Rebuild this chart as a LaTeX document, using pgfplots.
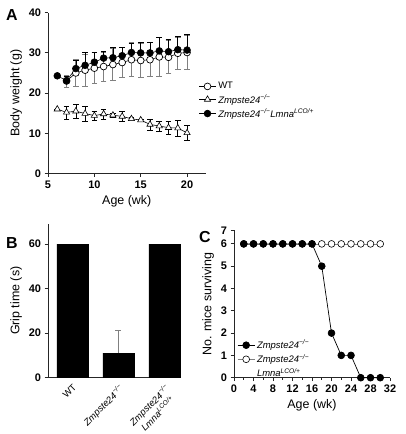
\documentclass[border=0pt]{standalone}
\usepackage{fontspec}
\setmainfont{Liberation Sans}
\usepackage{pgfplots}
\pgfplotsset{compat=1.18}
\usepackage{pgfplotstable}

\pgfplotstableread{
x y e
7 23.0 1.5
8 25.0 3.4
9 25.7 4.0
10 26.2 3.8
11 26.6 3.6
12 27.1 3.9
13 27.6 3.8
14 28.3 4.2
15 28.1 4.3
16 28.3 4.2
17 29.0 4.9
18 28.9 4.1
19 29.9 4.0
20 30.1 4.3
}\wtA

\pgfplotstableread{
x y e
6 24.3 0
7 23.1 1.0
8 26.1 2.1
9 26.9 3.2
10 27.7 2.4
11 28.7 1.6
12 28.8 2.5
13 29.3 2.2
14 30.1 2.4
15 30.0 2.7
16 30.0 2.6
17 30.5 3.4
18 30.3 3.0
19 30.8 3.4
20 30.7 4.0
}\lmnaA

\pgfplotstableread{
x y e
6 16.0 0
7 15.2 1.6
8 15.5 1.8
9 14.9 1.9
10 14.4 1.1
11 14.8 1.2
12 14.5 0.5
13 14.2 1.2
14 13.6 0.3
15 13.3 0.3
16 12.2 1.4
17 11.8 1.2
18 11.4 1.6
19 11.3 2.0
20 10.1 1.9
}\zmpA

\pgfplotstableread{
x y
0 60
1 11
2 60
}\gripB

\pgfplotstableread{
x y e
1 11 10
}\gripErrB

\pgfplotstableread{
x y
2 6
4 6
6 6
8 6
10 6
12 6
14 6
16 6
18 5
20 2
22 1
24 1
26 0
28 0
30 0
}\zmpC

\pgfplotstableread{
x y
2 6
4 6
6 6
8 6
10 6
12 6
14 6
16 6
18 6
20 6
22 6
24 6
26 6
28 6
30 6
}\lmnaC

\newcommand{\zmp}{\textit{Zmpste24\textsuperscript{−/−}}}
\newcommand{\lmna}{\textit{Lmna\textsuperscript{LCO/+}}}

\pgfplotsset{myax/.style={
  scale only axis, anchor=south west, clip=false,
  axis x line*=bottom, axis y line*=left,
  tick align=outside, major tick length=3.5bp, minor tick length=2bp,
  axis line style={line width=0.9pt, black!85},
  every tick/.style={line width=0.9pt, black!85},
  tick label style={font=\bfseries\fontsize{11}{13}\selectfont},
  label style={font=\fontsize{12.5}{15}\selectfont},
  /pgf/number format/assume math mode=true,
  legend cell align=left,
}}

\begin{document}
\begin{tikzpicture}[x=1bp,y=1bp]
\useasboundingbox (0,0) rectangle (405,434);

% Panel A
\begin{axis}[myax, at={(48bp,260.5bp)}, width=157.6bp, height=160.8bp,
  xmin=5, xmax=22, ymin=0, ymax=40,
  xtick={5,10,15,20}, ytick={0,10,20,30,40},
  xlabel={Age (wk)}, ylabel={Body weight (g)},
  legend style={at={(0.955,0.58)}, anchor=north west, draw=none, fill=none,
    font=\fontsize{9.5}{11}\selectfont, row sep=0bp, inner sep=0pt}]
\addplot[black, line width=0.6pt, mark=*, mark size=3.4bp,
  mark options={fill=white, line width=0.7pt},
  error bars/.cd, y dir=both, y explicit,
  error bar style={gray, line width=0.8pt},
  error mark options={rotate=90, gray, mark size=2.8bp, line width=0.8pt}]
  table[x=x, y=y, y error=e]{\wtA};
\addlegendentry{WT}
\addplot[black, line width=0.6pt, mark=triangle*, mark size=3.6bp,
  mark options={fill=white, line width=0.6pt},
  error bars/.cd, y dir=both, y explicit,
  error bar style={black, line width=0.6pt},
  error mark options={rotate=90, black, mark size=2.8bp, line width=0.6pt}]
  table[x=x, y=y, y error=e]{\zmpA};
\addlegendentry{\zmp}
\addplot[black, line width=0.6pt, mark=*, mark size=3.4bp,
  mark options={fill=black},
  error bars/.cd, y dir=plus, y explicit,
  error bar style={black, line width=0.6pt},
  error mark options={rotate=90, black, mark size=2.8bp, line width=0.6pt}]
  table[x=x, y=y, y error=e]{\lmnaA};
\addlegendentry{\zmp\lmna}
\end{axis}

% Panel B
\begin{axis}[myax, at={(48bp,56.5bp)}, width=132bp, height=153.5bp,
  xmin=-0.53, xmax=2.34, ymin=0, ymax=69,
  ytick={0,20,40,60}, xtick={0,1,2},
  xticklabels={WT, \zmp, {\zmp\\\lmna}},
  xticklabel style={rotate=45, anchor=north east, align=center,
    font=\fontsize{9.5}{12}\selectfont, inner sep=1.5bp},
  x tick style={draw=none},
  ylabel={Grip time (s)}]
\addplot[ybar, bar width=31bp, bar shift=0pt, fill=black, draw=black]
  table[x=x, y=y]{\gripB};
\addplot[draw=none, mark=none,
  error bars/.cd, y dir=plus, y explicit,
  error bar style={gray, line width=0.8pt},
  error mark options={rotate=90, gray, mark size=3bp, line width=0.8pt}]
  table[x=x, y=y, y error=e]{\gripErrB};
\end{axis}

% Panel C
\begin{axis}[myax, at={(234bp,56.3bp)}, width=156bp, height=147.2bp,
  xmin=0, xmax=32, ymin=0, ymax=6.6,
  xtick={0,4,...,32}, minor x tick num=1, ytick={0,1,2,3,4,5,6,6.6},
  yticklabels={0,1,2,3,4,5,6,7},
  xlabel={Age (wk)}, ylabel={No. mice surviving},
  legend style={at={(0.02,0.27)}, anchor=north west, draw=none, fill=none,
    font=\fontsize{9.5}{11.5}\selectfont, row sep=0bp, inner sep=0pt}]
\addplot[gray, line width=0.7pt, mark=*, mark size=3.4bp,
  mark options={fill=white, draw=black, line width=0.6pt}, forget plot]
  table[x=x, y=y]{\lmnaC};
\addplot[black, line width=0.7pt, mark=*, mark size=3.4bp,
  mark options={fill=black}]
  table[x=x, y=y]{\zmpC};
\addlegendentry{\zmp}
\addlegendimage{gray, line width=0.7pt, mark=*, mark size=3.4bp,
  mark options={fill=white, draw=black, line width=0.6pt}}
\addlegendentry{\zmp}
\addlegendimage{empty legend}
\addlegendentry{\lmna}
\end{axis}

\node[font=\bfseries\fontsize{16}{18}\selectfont] at (12,419) {A};
\node[font=\bfseries\fontsize{16}{18}\selectfont] at (12,191) {B};
\node[font=\bfseries\fontsize{16}{18}\selectfont] at (205,197) {C};
\end{tikzpicture}
\end{document}
